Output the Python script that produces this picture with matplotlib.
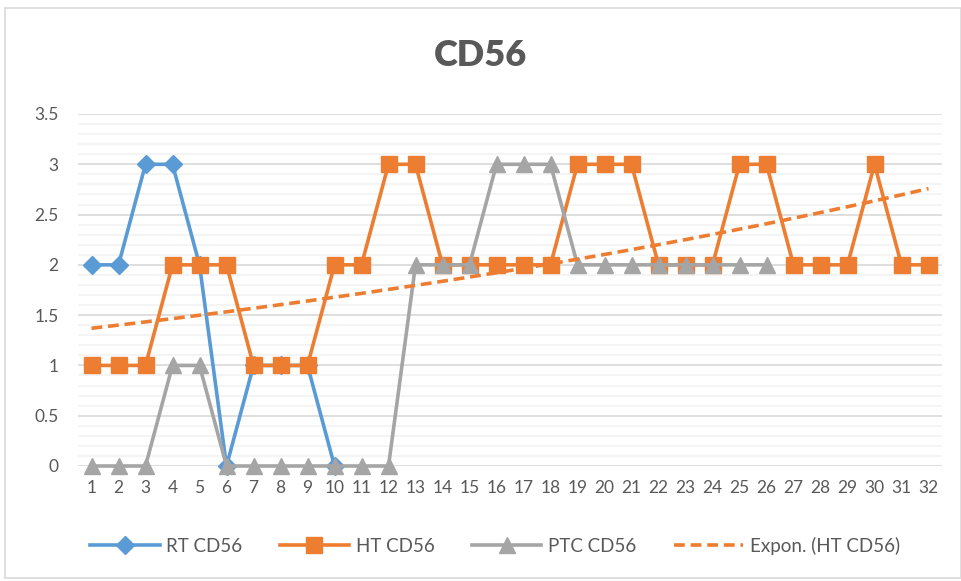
import numpy as np
import matplotlib
matplotlib.use("Agg")
import matplotlib.pyplot as plt
from matplotlib.patches import Rectangle

plt.rcParams['font.family'] = ['Lato', 'DejaVu Sans']

categories = list(range(1, 33))
rt_cd56 = [2, 2, 3, 3, 2, 0, 1, 1, 1, 0]
ht_cd56 = [1, 1, 1, 2, 2, 2, 1, 1, 1, 2, 2, 3, 3, 2, 2, 2, 2, 2, 3, 3, 3,
           2, 2, 2, 3, 3, 2, 2, 2, 3, 2, 2]
ptc_cd56 = [0, 0, 0, 1, 1, 0, 0, 0, 0, 0, 0, 0, 2, 2, 2, 3, 3, 3, 2, 2, 2,
            2, 2, 2, 2, 2]
tick_labels = [str(c) for c in categories]

BLUE = '#5B9BD5'
ORANGE = '#ED7D31'
GREY = '#A5A5A5'
TEXT = '#595959'

fig = plt.figure(figsize=(9.61, 5.81), dpi=100)
ax = fig.add_axes([78 / 961, 1 - 466 / 581, 864 / 961, 352 / 581])

x_all = np.array(categories, dtype=float)

# Exponential trend of the HT series (least squares on log values)
b, ln_a = np.polyfit(x_all, np.log(ht_cd56), 1)
trend = np.exp(ln_a) * np.exp(b * x_all)

ax.plot(categories[:len(rt_cd56)], rt_cd56, color=BLUE, lw=2.6,
        marker='D', ms=9, mec=BLUE, mfc=BLUE, label='RT CD56', zorder=3,
        clip_on=False)
ax.plot(categories[:len(ht_cd56)], ht_cd56, color=ORANGE, lw=2.6,
        marker='s', ms=12, mec=ORANGE, mfc=ORANGE, label='HT CD56', zorder=4,
        clip_on=False)
ax.plot(categories[:len(ptc_cd56)], ptc_cd56, color=GREY, lw=2.6,
        marker='^', ms=12, mec=GREY, mfc=GREY, label='PTC CD56', zorder=5,
        clip_on=False)
ax.plot(x_all, trend, color=ORANGE, lw=2.6, ls=(0, (3, 1.6)),
        label='Expon. (HT CD56)', zorder=6)

ax.set_xlim(0.5, 32.5)
ax.set_ylim(0, 3.5)
ax.set_yticks(np.arange(0, 3.51, 0.5))
ax.set_yticklabels(['0', '0.5', '1', '1.5', '2', '2.5', '3', '3.5'])
ax.set_yticks(np.arange(0, 3.51, 0.1), minor=True)
ax.set_xticks(categories)
ax.set_xticklabels(tick_labels)

ax.grid(axis='y', which='major', color='#D9D9D9', lw=1.2, zorder=0)
ax.grid(axis='y', which='minor', color='#F2F2F2', lw=1.2, zorder=0)
ax.set_axisbelow(True)
for s in ax.spines.values():
    s.set_visible(False)
ax.tick_params(axis='both', which='both', length=0, colors=TEXT, labelsize=12.5)
ax.tick_params(axis='y', pad=14)
ax.tick_params(axis='x', pad=10)

fig.text(0.5, 1 - 56 / 581, 'CD56', ha='center', va='center', fontsize=26,
         fontweight='heavy', color=TEXT)

leg = fig.legend(loc='center', bbox_to_anchor=(0.515, 1 - 546 / 581), ncol=4,
                 frameon=False, fontsize=13.5, handlelength=3.7,
                 columnspacing=2.0, handletextpad=0.35)
for t in leg.get_texts():
    t.set_color(TEXT)

fig.patches.append(Rectangle((5 / 961, 1 - 578 / 581), 956 / 961, 570 / 581,
                             transform=fig.transFigure, fill=False,
                             ec='#D9D9D9', lw=1.2))

fig.savefig('out.png', dpi=100)
